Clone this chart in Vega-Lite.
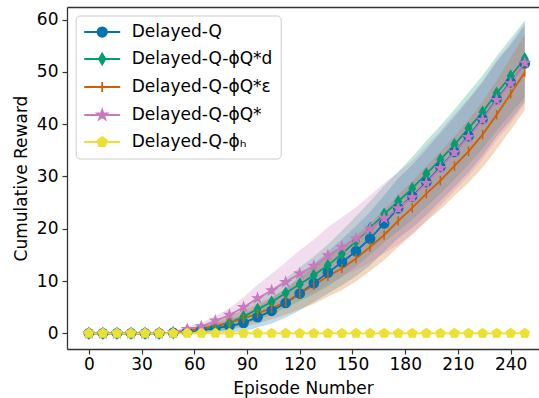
{
  "$schema": "https://vega.github.io/schema/vega-lite/v6.json",
  "width": 472,
  "height": 342,
  "autosize": {"type": "none"},
  "padding": {"left": 67, "top": 7, "right": 0, "bottom": 49},
  "config": {
    "font": "DejaVu Sans",
    "view": {"stroke": null},
    "axis": {
      "grid": false,
      "labelFont": "DejaVu Sans",
      "titleFont": "DejaVu Sans",
      "labelFontSize": 17,
      "titleFontSize": 17,
      "titleFontWeight": "normal",
      "labelColor": "#000000",
      "titleColor": "#000000",
      "domainColor": "#333333",
      "domainWidth": 1.3,
      "tickColor": "#333333",
      "tickWidth": 1.2,
      "tickSize": 5
    }
  },
  "data": {"values": [
    {"series":"Delayed-Q","episode":0,"reward":0,"lo":0,"hi":0},
    {"series":"Delayed-Q","episode":8,"reward":0,"lo":0,"hi":0},
    {"series":"Delayed-Q","episode":16,"reward":0,"lo":0,"hi":0},
    {"series":"Delayed-Q","episode":24,"reward":0,"lo":0,"hi":0},
    {"series":"Delayed-Q","episode":32,"reward":0,"lo":0,"hi":0},
    {"series":"Delayed-Q","episode":40,"reward":0,"lo":-0.05,"hi":0.05},
    {"series":"Delayed-Q","episode":48,"reward":0.1,"lo":-0.05,"hi":0.25},
    {"series":"Delayed-Q","episode":56,"reward":0.3,"lo":0.0,"hi":0.6},
    {"series":"Delayed-Q","episode":64,"reward":0.6,"lo":0.0,"hi":1.2},
    {"series":"Delayed-Q","episode":72,"reward":1.0,"lo":0.1,"hi":1.9},
    {"series":"Delayed-Q","episode":80,"reward":1.4,"lo":0.2,"hi":2.6},
    {"series":"Delayed-Q","episode":88,"reward":2.0,"lo":0.4,"hi":3.6},
    {"series":"Delayed-Q","episode":96,"reward":3.1,"lo":1.1,"hi":5.1},
    {"series":"Delayed-Q","episode":104,"reward":4.3,"lo":1.9,"hi":6.7},
    {"series":"Delayed-Q","episode":112,"reward":5.8,"lo":3.0,"hi":8.6},
    {"series":"Delayed-Q","episode":120,"reward":7.6,"lo":4.4,"hi":10.8},
    {"series":"Delayed-Q","episode":128,"reward":9.6,"lo":6.0,"hi":13.2},
    {"series":"Delayed-Q","episode":136,"reward":11.6,"lo":7.6,"hi":15.6},
    {"series":"Delayed-Q","episode":144,"reward":13.6,"lo":9.2,"hi":18.0},
    {"series":"Delayed-Q","episode":152,"reward":15.7,"lo":10.9,"hi":20.5},
    {"series":"Delayed-Q","episode":160,"reward":18.1,"lo":13.0,"hi":23.2},
    {"series":"Delayed-Q","episode":168,"reward":21.0,"lo":15.6,"hi":26.4},
    {"series":"Delayed-Q","episode":176,"reward":23.9,"lo":18.2,"hi":29.6},
    {"series":"Delayed-Q","episode":184,"reward":26.2,"lo":20.2,"hi":32.2},
    {"series":"Delayed-Q","episode":192,"reward":28.9,"lo":22.6,"hi":35.2},
    {"series":"Delayed-Q","episode":200,"reward":31.8,"lo":25.3,"hi":38.3},
    {"series":"Delayed-Q","episode":208,"reward":34.7,"lo":28.0,"hi":41.4},
    {"series":"Delayed-Q","episode":216,"reward":37.7,"lo":30.8,"hi":44.6},
    {"series":"Delayed-Q","episode":224,"reward":41.0,"lo":34.0,"hi":48.0},
    {"series":"Delayed-Q","episode":232,"reward":44.8,"lo":37.7,"hi":51.9},
    {"series":"Delayed-Q","episode":240,"reward":48.0,"lo":40.8,"hi":55.2},
    {"series":"Delayed-Q","episode":248,"reward":51.6,"lo":44.3,"hi":58.9},

    {"series":"Delayed-Q-ϕQ*d","episode":0,"reward":0,"lo":0,"hi":0},
    {"series":"Delayed-Q-ϕQ*d","episode":8,"reward":0,"lo":0,"hi":0},
    {"series":"Delayed-Q-ϕQ*d","episode":16,"reward":0,"lo":0,"hi":0},
    {"series":"Delayed-Q-ϕQ*d","episode":24,"reward":0,"lo":0,"hi":0},
    {"series":"Delayed-Q-ϕQ*d","episode":32,"reward":0,"lo":0,"hi":0},
    {"series":"Delayed-Q-ϕQ*d","episode":40,"reward":0,"lo":-0.05,"hi":0.05},
    {"series":"Delayed-Q-ϕQ*d","episode":48,"reward":0.1,"lo":-0.05,"hi":0.25},
    {"series":"Delayed-Q-ϕQ*d","episode":56,"reward":0.5,"lo":0.2,"hi":0.8},
    {"series":"Delayed-Q-ϕQ*d","episode":64,"reward":0.9,"lo":0.3,"hi":1.5},
    {"series":"Delayed-Q-ϕQ*d","episode":72,"reward":1.3,"lo":0.4,"hi":2.2},
    {"series":"Delayed-Q-ϕQ*d","episode":80,"reward":2.0,"lo":0.8,"hi":3.2},
    {"series":"Delayed-Q-ϕQ*d","episode":88,"reward":3.2,"lo":1.6,"hi":4.8},
    {"series":"Delayed-Q-ϕQ*d","episode":96,"reward":4.6,"lo":2.6,"hi":6.6},
    {"series":"Delayed-Q-ϕQ*d","episode":104,"reward":6.0,"lo":3.6,"hi":8.4},
    {"series":"Delayed-Q-ϕQ*d","episode":112,"reward":7.7,"lo":4.9,"hi":10.5},
    {"series":"Delayed-Q-ϕQ*d","episode":120,"reward":9.4,"lo":6.2,"hi":12.6},
    {"series":"Delayed-Q-ϕQ*d","episode":128,"reward":11.1,"lo":7.5,"hi":14.7},
    {"series":"Delayed-Q-ϕQ*d","episode":136,"reward":13.0,"lo":9.0,"hi":17.0},
    {"series":"Delayed-Q-ϕQ*d","episode":144,"reward":15.2,"lo":10.8,"hi":19.6},
    {"series":"Delayed-Q-ϕQ*d","episode":152,"reward":17.6,"lo":12.8,"hi":22.4},
    {"series":"Delayed-Q-ϕQ*d","episode":160,"reward":20.1,"lo":15.0,"hi":25.2},
    {"series":"Delayed-Q-ϕQ*d","episode":168,"reward":22.8,"lo":17.4,"hi":28.2},
    {"series":"Delayed-Q-ϕQ*d","episode":176,"reward":25.2,"lo":19.5,"hi":30.9},
    {"series":"Delayed-Q-ϕQ*d","episode":184,"reward":27.7,"lo":21.7,"hi":33.7},
    {"series":"Delayed-Q-ϕQ*d","episode":192,"reward":30.5,"lo":24.2,"hi":36.8},
    {"series":"Delayed-Q-ϕQ*d","episode":200,"reward":33.2,"lo":26.7,"hi":39.7},
    {"series":"Delayed-Q-ϕQ*d","episode":208,"reward":36.1,"lo":29.4,"hi":42.8},
    {"series":"Delayed-Q-ϕQ*d","episode":216,"reward":39.2,"lo":32.3,"hi":46.1},
    {"series":"Delayed-Q-ϕQ*d","episode":224,"reward":42.3,"lo":35.3,"hi":49.3},
    {"series":"Delayed-Q-ϕQ*d","episode":232,"reward":45.9,"lo":38.8,"hi":53.0},
    {"series":"Delayed-Q-ϕQ*d","episode":240,"reward":49.2,"lo":42.0,"hi":56.4},
    {"series":"Delayed-Q-ϕQ*d","episode":248,"reward":52.5,"lo":45.2,"hi":59.8},

    {"series":"Delayed-Q-ϕQ*ε","episode":0,"reward":0,"lo":0,"hi":0},
    {"series":"Delayed-Q-ϕQ*ε","episode":8,"reward":0,"lo":0,"hi":0},
    {"series":"Delayed-Q-ϕQ*ε","episode":16,"reward":0,"lo":0,"hi":0},
    {"series":"Delayed-Q-ϕQ*ε","episode":24,"reward":0,"lo":0,"hi":0},
    {"series":"Delayed-Q-ϕQ*ε","episode":32,"reward":0,"lo":0,"hi":0},
    {"series":"Delayed-Q-ϕQ*ε","episode":40,"reward":0,"lo":-0.05,"hi":0.05},
    {"series":"Delayed-Q-ϕQ*ε","episode":48,"reward":0.1,"lo":-0.05,"hi":0.25},
    {"series":"Delayed-Q-ϕQ*ε","episode":56,"reward":0.4,"lo":0.0,"hi":0.8},
    {"series":"Delayed-Q-ϕQ*ε","episode":64,"reward":0.9,"lo":0.2,"hi":1.6},
    {"series":"Delayed-Q-ϕQ*ε","episode":72,"reward":1.4,"lo":0.4,"hi":2.4},
    {"series":"Delayed-Q-ϕQ*ε","episode":80,"reward":2.0,"lo":0.7,"hi":3.3},
    {"series":"Delayed-Q-ϕQ*ε","episode":88,"reward":2.8,"lo":1.2,"hi":4.4},
    {"series":"Delayed-Q-ϕQ*ε","episode":96,"reward":3.8,"lo":1.9,"hi":5.7},
    {"series":"Delayed-Q-ϕQ*ε","episode":104,"reward":4.8,"lo":2.7,"hi":6.9},
    {"series":"Delayed-Q-ϕQ*ε","episode":112,"reward":6.0,"lo":3.6,"hi":8.4},
    {"series":"Delayed-Q-ϕQ*ε","episode":120,"reward":7.6,"lo":4.6,"hi":10.6},
    {"series":"Delayed-Q-ϕQ*ε","episode":128,"reward":9.2,"lo":5.6,"hi":12.8},
    {"series":"Delayed-Q-ϕQ*ε","episode":136,"reward":10.9,"lo":7.0,"hi":14.8},
    {"series":"Delayed-Q-ϕQ*ε","episode":144,"reward":12.4,"lo":8.3,"hi":16.5},
    {"series":"Delayed-Q-ϕQ*ε","episode":152,"reward":14.3,"lo":9.9,"hi":18.7},
    {"series":"Delayed-Q-ϕQ*ε","episode":160,"reward":16.5,"lo":11.9,"hi":21.1},
    {"series":"Delayed-Q-ϕQ*ε","episode":168,"reward":18.8,"lo":14.0,"hi":23.6},
    {"series":"Delayed-Q-ϕQ*ε","episode":176,"reward":21.5,"lo":16.5,"hi":26.5},
    {"series":"Delayed-Q-ϕQ*ε","episode":184,"reward":24.0,"lo":18.9,"hi":29.1},
    {"series":"Delayed-Q-ϕQ*ε","episode":192,"reward":26.7,"lo":21.4,"hi":32.0},
    {"series":"Delayed-Q-ϕQ*ε","episode":200,"reward":29.2,"lo":23.7,"hi":34.7},
    {"series":"Delayed-Q-ϕQ*ε","episode":208,"reward":32.0,"lo":26.3,"hi":37.7},
    {"series":"Delayed-Q-ϕQ*ε","episode":216,"reward":34.8,"lo":28.8,"hi":40.8},
    {"series":"Delayed-Q-ϕQ*ε","episode":224,"reward":38.0,"lo":31.7,"hi":44.3},
    {"series":"Delayed-Q-ϕQ*ε","episode":232,"reward":41.8,"lo":35.2,"hi":48.4},
    {"series":"Delayed-Q-ϕQ*ε","episode":240,"reward":45.8,"lo":38.9,"hi":52.7},
    {"series":"Delayed-Q-ϕQ*ε","episode":248,"reward":49.9,"lo":42.7,"hi":57.1},

    {"series":"Delayed-Q-ϕQ*","episode":0,"reward":0,"lo":0,"hi":0},
    {"series":"Delayed-Q-ϕQ*","episode":8,"reward":0,"lo":0,"hi":0},
    {"series":"Delayed-Q-ϕQ*","episode":16,"reward":0,"lo":0,"hi":0},
    {"series":"Delayed-Q-ϕQ*","episode":24,"reward":0,"lo":0,"hi":0},
    {"series":"Delayed-Q-ϕQ*","episode":32,"reward":0,"lo":0,"hi":0},
    {"series":"Delayed-Q-ϕQ*","episode":40,"reward":0,"lo":-0.05,"hi":0.05},
    {"series":"Delayed-Q-ϕQ*","episode":48,"reward":0.15,"lo":-0.05,"hi":0.35},
    {"series":"Delayed-Q-ϕQ*","episode":56,"reward":0.8,"lo":0.3,"hi":1.3},
    {"series":"Delayed-Q-ϕQ*","episode":64,"reward":1.3,"lo":0.6,"hi":2.0},
    {"series":"Delayed-Q-ϕQ*","episode":72,"reward":2.4,"lo":1.5,"hi":3.3},
    {"series":"Delayed-Q-ϕQ*","episode":80,"reward":3.5,"lo":2.2,"hi":4.8},
    {"series":"Delayed-Q-ϕQ*","episode":88,"reward":5.0,"lo":3.1,"hi":6.9},
    {"series":"Delayed-Q-ϕQ*","episode":96,"reward":6.7,"lo":4.1,"hi":9.3},
    {"series":"Delayed-Q-ϕQ*","episode":104,"reward":8.2,"lo":5.0,"hi":11.4},
    {"series":"Delayed-Q-ϕQ*","episode":112,"reward":9.8,"lo":6.0,"hi":13.6},
    {"series":"Delayed-Q-ϕQ*","episode":120,"reward":11.4,"lo":6.9,"hi":15.9},
    {"series":"Delayed-Q-ϕQ*","episode":128,"reward":12.9,"lo":7.9,"hi":17.9},
    {"series":"Delayed-Q-ϕQ*","episode":136,"reward":14.9,"lo":9.5,"hi":20.3},
    {"series":"Delayed-Q-ϕQ*","episode":144,"reward":16.5,"lo":10.8,"hi":22.2},
    {"series":"Delayed-Q-ϕQ*","episode":152,"reward":18.1,"lo":12.1,"hi":24.1},
    {"series":"Delayed-Q-ϕQ*","episode":160,"reward":20.0,"lo":13.6,"hi":26.4},
    {"series":"Delayed-Q-ϕQ*","episode":168,"reward":22.0,"lo":15.3,"hi":28.7},
    {"series":"Delayed-Q-ϕQ*","episode":176,"reward":23.9,"lo":17.0,"hi":30.8},
    {"series":"Delayed-Q-ϕQ*","episode":184,"reward":26.0,"lo":19.0,"hi":33.0},
    {"series":"Delayed-Q-ϕQ*","episode":192,"reward":28.7,"lo":21.6,"hi":35.8},
    {"series":"Delayed-Q-ϕQ*","episode":200,"reward":31.6,"lo":24.4,"hi":38.8},
    {"series":"Delayed-Q-ϕQ*","episode":208,"reward":34.6,"lo":27.3,"hi":41.9},
    {"series":"Delayed-Q-ϕQ*","episode":216,"reward":37.5,"lo":30.1,"hi":44.9},
    {"series":"Delayed-Q-ϕQ*","episode":224,"reward":40.8,"lo":33.3,"hi":48.3},
    {"series":"Delayed-Q-ϕQ*","episode":232,"reward":44.6,"lo":37.0,"hi":52.2},
    {"series":"Delayed-Q-ϕQ*","episode":240,"reward":47.8,"lo":40.1,"hi":55.5},
    {"series":"Delayed-Q-ϕQ*","episode":248,"reward":51.7,"lo":43.9,"hi":59.5},

    {"series":"Delayed-Q-ϕₕ","episode":0,"reward":0,"lo":0,"hi":0},
    {"series":"Delayed-Q-ϕₕ","episode":8,"reward":0,"lo":0,"hi":0},
    {"series":"Delayed-Q-ϕₕ","episode":16,"reward":0,"lo":0,"hi":0},
    {"series":"Delayed-Q-ϕₕ","episode":24,"reward":0,"lo":0,"hi":0},
    {"series":"Delayed-Q-ϕₕ","episode":32,"reward":0,"lo":0,"hi":0},
    {"series":"Delayed-Q-ϕₕ","episode":40,"reward":0,"lo":0,"hi":0},
    {"series":"Delayed-Q-ϕₕ","episode":48,"reward":0,"lo":0,"hi":0},
    {"series":"Delayed-Q-ϕₕ","episode":56,"reward":0,"lo":0,"hi":0},
    {"series":"Delayed-Q-ϕₕ","episode":64,"reward":0,"lo":0,"hi":0},
    {"series":"Delayed-Q-ϕₕ","episode":72,"reward":0,"lo":0,"hi":0},
    {"series":"Delayed-Q-ϕₕ","episode":80,"reward":0,"lo":0,"hi":0},
    {"series":"Delayed-Q-ϕₕ","episode":88,"reward":0,"lo":0,"hi":0},
    {"series":"Delayed-Q-ϕₕ","episode":96,"reward":0,"lo":0,"hi":0},
    {"series":"Delayed-Q-ϕₕ","episode":104,"reward":0,"lo":0,"hi":0},
    {"series":"Delayed-Q-ϕₕ","episode":112,"reward":0,"lo":0,"hi":0},
    {"series":"Delayed-Q-ϕₕ","episode":120,"reward":0,"lo":0,"hi":0},
    {"series":"Delayed-Q-ϕₕ","episode":128,"reward":0,"lo":0,"hi":0},
    {"series":"Delayed-Q-ϕₕ","episode":136,"reward":0,"lo":0,"hi":0},
    {"series":"Delayed-Q-ϕₕ","episode":144,"reward":0,"lo":0,"hi":0},
    {"series":"Delayed-Q-ϕₕ","episode":152,"reward":0,"lo":0,"hi":0},
    {"series":"Delayed-Q-ϕₕ","episode":160,"reward":0,"lo":0,"hi":0},
    {"series":"Delayed-Q-ϕₕ","episode":168,"reward":0,"lo":0,"hi":0},
    {"series":"Delayed-Q-ϕₕ","episode":176,"reward":0,"lo":0,"hi":0},
    {"series":"Delayed-Q-ϕₕ","episode":184,"reward":0,"lo":0,"hi":0},
    {"series":"Delayed-Q-ϕₕ","episode":192,"reward":0,"lo":0,"hi":0},
    {"series":"Delayed-Q-ϕₕ","episode":200,"reward":0,"lo":0,"hi":0},
    {"series":"Delayed-Q-ϕₕ","episode":208,"reward":0,"lo":0,"hi":0},
    {"series":"Delayed-Q-ϕₕ","episode":216,"reward":0,"lo":0,"hi":0},
    {"series":"Delayed-Q-ϕₕ","episode":224,"reward":0,"lo":0,"hi":0},
    {"series":"Delayed-Q-ϕₕ","episode":232,"reward":0,"lo":0,"hi":0},
    {"series":"Delayed-Q-ϕₕ","episode":240,"reward":0,"lo":0,"hi":0},
    {"series":"Delayed-Q-ϕₕ","episode":248,"reward":0,"lo":0,"hi":0}
  ]},
  "resolve": {"axis": {"x": "independent"}},
  "encoding": {
    "color": {"field": "series", "type": "nominal",
      "scale": {"domain": ["Delayed-Q","Delayed-Q-ϕQ*d","Delayed-Q-ϕQ*ε","Delayed-Q-ϕQ*","Delayed-Q-ϕₕ"],
                "range": ["#0173b2","#029e73","#d55e00","#cc78bc","#ece133"]},
      "legend": {
        "orient": "none", "legendX": 8.7, "legendY": 8.5,
        "title": null,
        "labelFont": "DejaVu Sans", "labelFontSize": 17, "labelColor": "#000000", "labelLimit": 400,
        "symbolSize": 81, "symbolOffset": 10, "labelOffset": 21,
        "rowPadding": 9, "padding": 8,
        "fillColor": "rgba(255,255,255,0.8)", "strokeColor": "#cccccc", "cornerRadius": 4,
        "encode": {
          "symbols": {
            "update": {
              "shape": {"signal": "datum.value === 'Delayed-Q' ? 'M-4,0L4,0M1.05,0A1.05,1.05,0,1,1,-1.05,0A1.05,1.05,0,1,1,1.05,0Z' : datum.value === 'Delayed-Q-ϕQ*d' ? 'M-4,0L4,0M0,-1.2L0.72,0L0,1.2L-0.72,0Z' : datum.value === 'Delayed-Q-ϕQ*ε' ? 'M-4,0L4,0M0,-1.1L0,1.1' : datum.value === 'Delayed-Q-ϕQ*' ? 'M-4,0L4,0M0,-1.15L0.26,-0.355L1.09,-0.355L0.418,0.136L0.676,0.93L0,0.44L-0.676,0.93L-0.418,0.136L-1.09,-0.355L-0.26,-0.355Z' : 'M-4,0L4,0M0,-1.1L1.046,-0.34L0.647,0.89L-0.647,0.89L-1.046,-0.34Z'"},
              "fill": {"scale": "color", "field": "value"},
              "stroke": {"scale": "color", "field": "value"},
              "strokeWidth": {"value": 1.8},
              "opacity": {"value": 1},
              "fillOpacity": {"value": 1},
              "strokeOpacity": {"value": 1}
            }
          }
        }
      }
    }
  },
  "layer": [
    {
      "mark": {"type": "area", "opacity": 0.25},
      "encoding": {
        "x": {"field": "episode", "type": "quantitative",
              "scale": {"domain": [-12.4, 256.1], "nice": false, "zero": false},
              "axis": {"orient": "bottom", "values": [0,30,60,90,120,150,180,210,240], "title": "Episode Number", "labelPadding": 2, "titlePadding": 8, "labelFlush": false}},
        "y": {"field": "lo", "type": "quantitative",
              "scale": {"domain": [-3, 62.4], "nice": false, "zero": false},
              "axis": {"values": [0,10,20,30,40,50,60], "title": "Cumulative Reward", "labelPadding": 4, "titlePadding": 6}},
        "y2": {"field": "hi"}
      }
    },
    {
      "mark": {"type": "line", "strokeWidth": 1.8},
      "encoding": {
        "x": {"field": "episode", "type": "quantitative",
              "axis": {"orient": "top", "labels": false, "ticks": false, "title": null, "domain": true}},
        "y": {"field": "reward", "type": "quantitative"}
      }
    },
    {
      "transform": [{"filter": "datum.series === 'Delayed-Q'"}],
      "mark": {"type": "point", "shape": "circle", "size": 90, "filled": true, "opacity": 1, "stroke": "#0173b2", "strokeWidth": 1.2},
      "encoding": {
        "x": {"field": "episode", "type": "quantitative", "axis": null},
        "y": {"field": "reward", "type": "quantitative"}
      }
    },
    {
      "transform": [{"filter": "datum.series === 'Delayed-Q-ϕQ*d'"}],
      "mark": {"type": "point", "shape": "M0,-1L0.6,0L0,1L-0.6,0Z", "size": 121, "filled": true, "opacity": 1, "stroke": "#029e73", "strokeWidth": 1.2},
      "encoding": {
        "x": {"field": "episode", "type": "quantitative", "axis": null},
        "y": {"field": "reward", "type": "quantitative"}
      }
    },
    {
      "transform": [{"filter": "datum.series === 'Delayed-Q-ϕQ*ε'"}],
      "mark": {"type": "point", "shape": "M0,-1L0,1", "size": 90, "filled": true, "opacity": 1, "stroke": "#d55e00", "strokeWidth": 1.5},
      "encoding": {
        "x": {"field": "episode", "type": "quantitative", "axis": null},
        "y": {"field": "reward", "type": "quantitative"}
      }
    },
    {
      "transform": [{"filter": "datum.series === 'Delayed-Q-ϕQ*'"}],
      "mark": {"type": "point", "shape": "M0,-1L0.2245,-0.309L0.951,-0.309L0.363,0.118L0.588,0.809L0,0.382L-0.588,0.809L-0.363,0.118L-0.951,-0.309L-0.2245,-0.309Z", "size": 100, "filled": true, "opacity": 1, "stroke": "#cc78bc", "strokeWidth": 1.2},
      "encoding": {
        "x": {"field": "episode", "type": "quantitative", "axis": null},
        "y": {"field": "reward", "type": "quantitative"}
      }
    },
    {
      "transform": [{"filter": "datum.series === 'Delayed-Q-ϕₕ'"}],
      "mark": {"type": "point", "shape": "M0,-1L0.951,-0.309L0.588,0.809L-0.588,0.809L-0.951,-0.309Z", "size": 95, "filled": true, "opacity": 1, "stroke": "#ece133", "strokeWidth": 1.2},
      "encoding": {
        "x": {"field": "episode", "type": "quantitative", "axis": null},
        "y": {"field": "reward", "type": "quantitative"}
      }
    }
  ]
}
